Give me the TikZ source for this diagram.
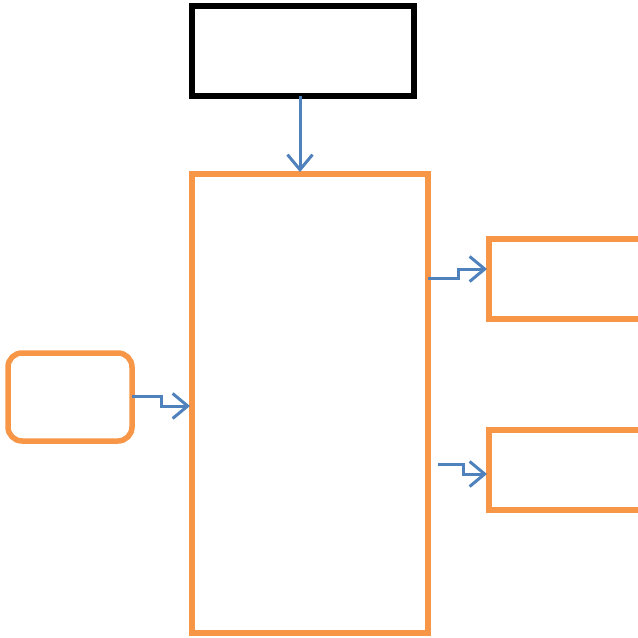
\documentclass[tikz,border=0pt]{standalone}
\usepackage{xcolor}
\usetikzlibrary{arrows.meta}

\definecolor{naranja}{HTML}{F79646}
\definecolor{azul}{HTML}{4F81BD}

\tikzset{
    caja/.style={draw=naranja, line width=5.5pt, inner sep=0pt, outer sep=0pt},
    flecha/.style={azul, line width=3pt, shorten >=2pt, -{Straight Barb[length=15pt,width=25pt,line width=3pt]}}
}

\begin{document}
\begin{tikzpicture}[x=1pt, y=-1pt]

    % marco de la imagen
    \useasboundingbox (0,0) rectangle (638,638);
    \clip (0,0) rectangle (638,638);

    % caja de arriba
    \node[draw=black, line width=5.5pt, inner sep=0pt, outer sep=0pt, minimum width=222pt, minimum height=90pt] (arriba) at (303,51) {};

    % caja principal
    \node[caja, minimum width=236pt, minimum height=459pt] (central) at (310,403.5) {};

    % caja de la izquierda
    \node[caja, rounded corners=14pt, minimum width=124pt, minimum height=88pt] (entrada) at (70,397) {};

    % cajas de la derecha
    \node[caja, minimum width=170pt, minimum height=80pt] (salidaA) at (574,279) {};
    \node[caja, minimum width=170pt, minimum height=80pt] (salidaB) at (574,470) {};

    % flechas
    \draw[flecha] (arriba.south -| 300,0) -- (central.north -| 300,0);
    \draw[flecha] (entrada.east |- 0,396) -- (161,396) |- (central.west |- 0,406);
    \draw[flecha] (central.east |- 0,278) -- (458,278) |- (salidaA.west |- 0,269);
    \coordinate (inicioB) at (438,464);
    \draw[flecha] (inicioB) -- (463,464) |- (salidaB.west |- 0,474);

\end{tikzpicture}
\end{document}
